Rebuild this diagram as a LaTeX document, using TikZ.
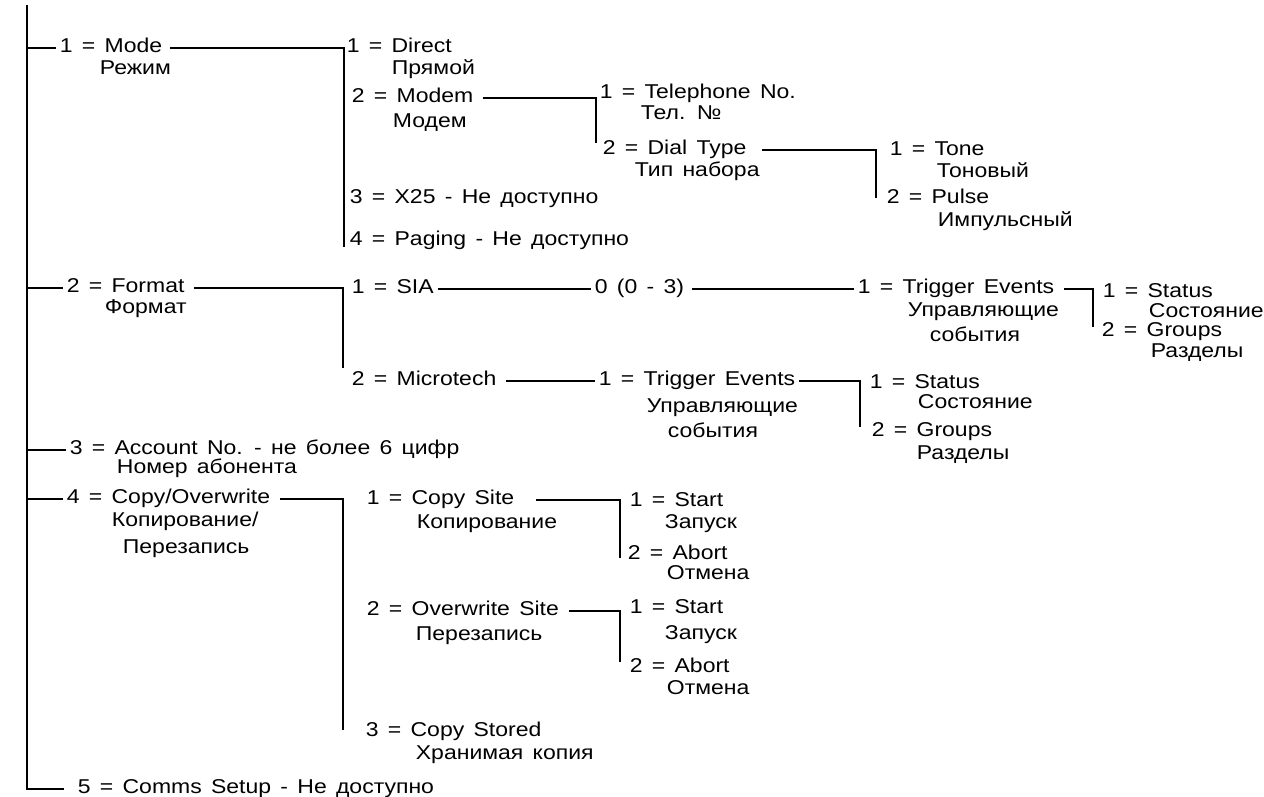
\documentclass[tikz,border=0pt]{standalone}
\usepackage{fontspec}
\setmainfont{Liberation Sans}[FakeStretch=1.15,WordSpace=1.45]

\begin{document}
\begin{tikzpicture}[x=1pt,y=-1pt,line width=1.8pt,
  font=\fontsize{20pt}{24pt}\selectfont,
  item/.style={anchor=base west,inner xsep=3pt,inner ysep=0pt,
    text height=12pt,text depth=4pt},
  ru/.style={anchor=base west,inner sep=0pt}]
  \path[fill=white,use as bounding box] (0,0) rectangle (1264,796);

  % top level
  \coordinate (top) at (27,5);
  \node[item] (mode) at (56,52) {1 = Mode};
  \node[ru] (modeRu) at (99,74) {Режим};
  \node[item] (format) at (63,292) {2 = Format};
  \node[ru] (formatRu) at (104,313) {Формат};
  \node[item] (account) at (66,454) {3 = Account No. - не более 6 цифр};
  \node[ru] (accountRu) at (116,473) {Номер абонента};
  \node[item] (copy) at (63,503) {4 = Copy/Overwrite};
  \node[ru] (copyRu) at (111,526) {Копирование/};
  \node[ru] (copyRu2) at (122,553) {Перезапись};
  \node[item] (comms) at (74,793) {5 = Comms Setup - Не доступно};

  % mode
  \node[item] (direct) at (343,52) {1 = Direct};
  \node[ru] (directRu) at (391,74) {Прямой};
  \node[item] (modem) at (348,102) {2 = Modem};
  \node[ru] (modemRu) at (392,127) {Модем};
  \node[item] (xtf) at (346,203) {3 = X25 - Не доступно};
  \node[item] (paging) at (346,245) {4 = Paging - Не доступно};
  \coordinate (modeEnd) at (344,247);

  \node[item] (phone) at (596,98) {1 = Telephone No.};
  \node[ru] (phoneRu) at (640,119) {Тел. №};
  \node[item] (dial) at (599,154) {2 = Dial Type};
  \node[ru] (dialRu) at (634,176) {Тип набора};
  \coordinate (modemEnd) at (596,143);

  \node[item] (tone) at (886,155) {1 = Tone};
  \node[ru] (toneRu) at (936,177) {Тоновый};
  \node[item] (pulse) at (883,203) {2 = Pulse};
  \node[ru] (pulseRu) at (937,226) {Импульсный};
  \coordinate (dialEnd) at (876,198);

  % format
  \node[item] (sia) at (348,293) {1 = SIA};
  \node[item] (siaNum) at (591,293) {0 (0 - 3)};
  \node[item] (siaTrig) at (854,293) {1 = Trigger Events};
  \node[ru] (siaTrigRu) at (907,316) {Управляющие};
  \node[ru] (siaTrigRu2) at (929,341) {события};
  \node[item] (siaStat) at (1099,297) {1 = Status};
  \node[ru] (siaStatRu) at (1148,317) {Состояние};
  \node[item] (siaGrp) at (1098,336) {2 = Groups};
  \node[ru] (siaGrpRu) at (1150,357) {Разделы};
  \coordinate (siaEnd) at (1093,327);

  \node[item] (micro) at (348,385) {2 = Microtech};
  \node[item] (mtTrig) at (595,385) {1 = Trigger Events};
  \node[ru] (mtTrigRu) at (646,412) {Управляющие};
  \node[ru] (mtTrigRu2) at (667,437) {события};
  \node[item] (mtStat) at (866,388) {1 = Status};
  \node[ru] (mtStatRu) at (917,408) {Состояние};
  \node[item] (mtGrp) at (868,436) {2 = Groups};
  \node[ru] (mtGrpRu) at (916,459) {Разделы};
  \coordinate (mtEnd) at (860,427);
  \coordinate (fmtEnd) at (343,368);

  % copy / overwrite
  \node[item] (site) at (363,504) {1 = Copy Site};
  \node[ru] (siteRu) at (416,528) {Копирование};
  \node[item] (start) at (626,506) {1 = Start};
  \node[ru] (startRu) at (664,528) {Запуск};
  \node[item] (abort) at (624,559) {2 = Abort};
  \node[ru] (abortRu) at (666,579) {Отмена};
  \coordinate (siteEnd) at (620,558);
  \node[item] (over) at (363,615) {2 = Overwrite Site};
  \node[ru] (overRu) at (415,640) {Перезапись};
  \node[item] (start2) at (626,613) {1 = Start};
  \node[ru] (start2Ru) at (664,639) {Запуск};
  \node[item] (abort2) at (626,672) {2 = Abort};
  \node[ru] (abort2Ru) at (666,694) {Отмена};
  \coordinate (overEnd) at (620,662);
  \node[item] (stored) at (362,736) {3 = Copy Stored};
  \node[ru] (storedRu) at (415,759) {Хранимая копия};
  \coordinate (copyEnd) at (343,730);

  % lines
  \draw (top) |- ([xshift=-10pt]comms.west);
  \foreach \n in {mode,format,account,copy}
    \draw (top |- \n.west) -- (\n.west);
  \draw ([xshift=4pt]mode.east) -| (modeEnd);
  \draw ([xshift=6pt]modem.east) -| (modemEnd);
  \draw ([xshift=12pt]dial.east) -| (dialEnd);
  \draw ([xshift=6pt]format.east) -| (fmtEnd);
  \draw (sia.east) -- (siaNum.west);
  \draw ([xshift=4pt]siaNum.east) -- (siaTrig.west);
  \draw ([xshift=6pt]siaTrig.east) -| (siaEnd);
  \draw ([xshift=6pt]micro.east) -- (mtTrig.west);
  \draw (mtTrig.east) -| (mtEnd);
  \draw ([xshift=6pt]copy.east) -| (copyEnd);
  \draw ([xshift=18pt]site.east) -| (siteEnd);
  \draw ([xshift=6pt]over.east) -| (overEnd);
\end{tikzpicture}
\end{document}
